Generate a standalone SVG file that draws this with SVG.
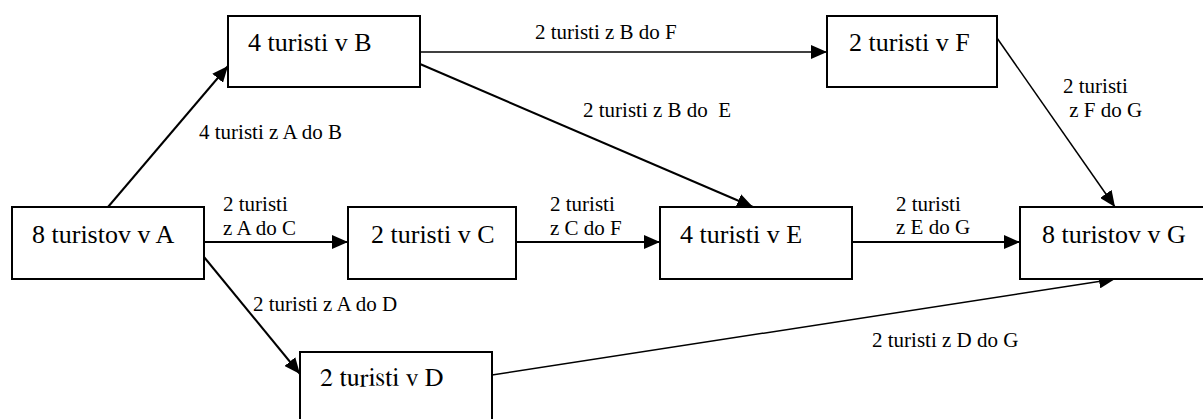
<svg xmlns="http://www.w3.org/2000/svg" width="1203" height="419" viewBox="0 0 1203 419">
<style>
.box{fill:#fff;stroke:#000;stroke-width:2}
.nt{font-size:26px;fill:#000}
.lb{font-size:21px;fill:#000;white-space:pre}
.c{fill:none;stroke:#000;stroke-width:2}
.t{fill:none;stroke:#000;stroke-width:1.5}
</style>
<defs>
<marker id="ah" markerUnits="userSpaceOnUse" markerWidth="16" markerHeight="14" refX="16" refY="7" orient="auto">
<path d="M0,0 L16,7 L0,14 z" fill="#000"/>
</marker>
</defs>
<rect width="1203" height="419" fill="#fff"/>
<g id="connectors" font-family="Tinos, monospace">
<line class="c" x1="108" y1="207" x2="228" y2="66" marker-end="url(#ah)"/>
<line class="t" x1="420" y1="52" x2="827" y2="52" marker-end="url(#ah)"/>
<line class="c" x1="420" y1="64" x2="753" y2="207" marker-end="url(#ah)"/>
<line class="c" x1="204" y1="242" x2="348" y2="242" marker-end="url(#ah)"/>
<line class="c" x1="516" y1="242" x2="660" y2="242" marker-end="url(#ah)"/>
<line class="c" x1="852" y1="242" x2="1020" y2="242" marker-end="url(#ah)"/>
<line class="t" x1="997" y1="38" x2="1115" y2="207" marker-end="url(#ah)"/>
<line class="c" x1="204" y1="257" x2="300" y2="374" marker-end="url(#ah)"/>
<line class="t" x1="492" y1="375" x2="1115" y2="279" marker-end="url(#ah)"/>
<text class="lb" x="199" y="139">4 turisti z A do B</text>
<text class="lb" x="535" y="39">2 turisti z B do F</text>
<text class="lb" x="583" y="117">2 turisti z B do  E</text>
<text class="lb" x="1063" y="93">2 turisti</text>
<text class="lb" x="1064" y="117"> z F do G</text>
<text class="lb" x="223" y="211">2 turisti</text>
<text class="lb" x="223" y="235">z A do C</text>
<text class="lb" x="550" y="211">2 turisti</text>
<text class="lb" x="550" y="235">z C do F</text>
<text class="lb" x="896" y="211">2 turisti</text>
<text class="lb" x="896" y="234">z E do G</text>
<text class="lb" x="253" y="311">2 turisti z A do D</text>
<text class="lb" x="872" y="347">2 turisti z D do G</text>
</g>
<g id="nodeA" font-family="Times New Roman, monospace"><rect class="box" x="12" y="207" width="192" height="72"/><text class="nt" x="32" y="243">8 turistov v A</text></g>
<g id="nodeB" font-family="Tinos, monospace"><rect class="box" x="228" y="16" width="192" height="71"/><text class="nt" x="248" y="51">4 turisti v B</text></g>
<g id="nodeC" font-family="Times New Roman, monospace"><rect class="box" x="348" y="207" width="168" height="72"/><text class="nt" x="371" y="243">2 turisti v C</text></g>
<g id="nodeD" font-family="FreeSerif, monospace"><rect class="box" x="300" y="352" width="192" height="72"/><text class="nt" x="320" y="386">2 turisti v D</text></g>
<g id="nodeE" font-family="Times, monospace"><rect class="box" x="660" y="207" width="192" height="72"/><text class="nt" x="680" y="243">4 turisti v E</text></g>
<g id="nodeF" font-family="Times, monospace"><rect class="box" x="827" y="16" width="170" height="71"/><text class="nt" x="849" y="51">2 turisti v F</text></g>
<g id="nodeG" font-family="Liberation Serif, monospace"><rect class="box" x="1020" y="207" width="192" height="72"/><text class="nt" x="1042" y="243">8 turistov v G</text></g>
</svg>
